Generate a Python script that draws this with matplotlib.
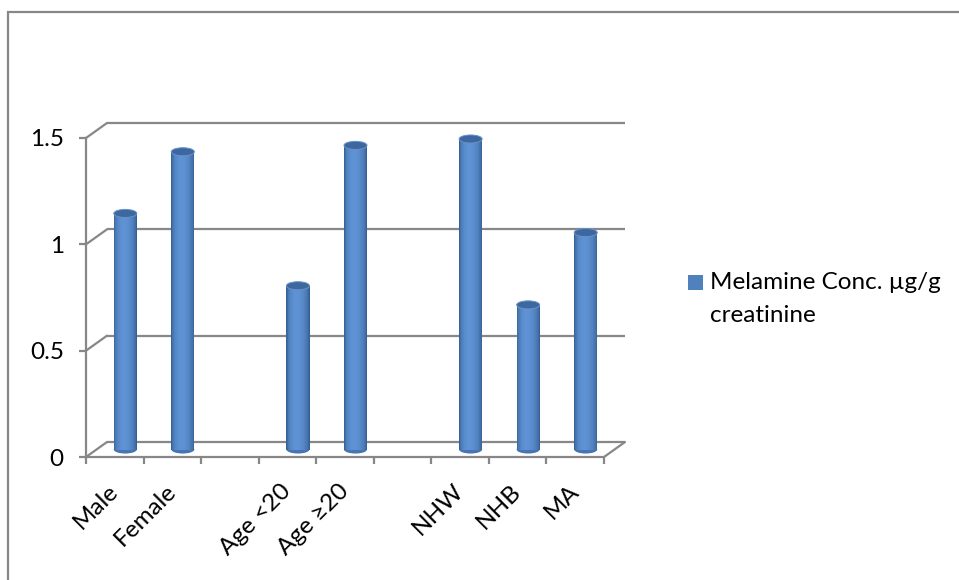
import numpy as np
import matplotlib
matplotlib.use("Agg")
import matplotlib.pyplot as plt
from matplotlib import transforms
from matplotlib.patches import Ellipse, Rectangle, ConnectionPatch
from matplotlib.colors import to_rgb

# ---- data ----
categories = ["Male", "Female", "", "Age <20", "Age \u226520", "", "NHW", "NHB", "MA"]
values = [1.11, 1.40, None, 0.77, 1.43, None, 1.46, 0.68, 1.02]
y_ticks = [0, 0.5, 1, 1.5]
y_tick_labels = ["0", "0.5", "1", "1.5"]
series_name = ["Melamine Conc. \u00b5g/g", "creatinine"]

plt.rcParams["font.family"] = ["Lato", "DejaVu Sans"]

W, H, DPI = 959, 580, 100
fig = plt.figure(figsize=(W / DPI, H / DPI), dpi=DPI)
ax = fig.add_axes([86 / W, 1 - 457 / H, 518 / W, 319 / H])
n = len(categories)
ax.set_xlim(-0.5, n - 0.5)
ax.set_ylim(0, 1.5)
ax.patch.set_visible(False)

grid = "#878787"
lw = 1.6
fs = 17.5

# depth of the pseudo-3D box, in pixels (right, up)
dx, dy = 21, 15
back = ax.transData + transforms.ScaledTranslation(dx / DPI, dy / DPI, fig.dpi_scale_trans)
mid = ax.transData + transforms.ScaledTranslation(dx / 2 / DPI, dy / 2 / DPI, fig.dpi_scale_trans)

# back wall gridlines and the side-wall diagonals
for yv in y_ticks:
    ax.plot([-0.5, n - 0.5], [yv, yv], transform=back, color=grid, lw=lw,
            clip_on=False, zorder=1, solid_capstyle="butt")
    cp = ConnectionPatch((-0.5, yv), (-0.5, yv), coordsA=ax.transData, coordsB=back,
                         color=grid, lw=lw, zorder=1)
    cp.set_clip_on(False)
    ax.add_artist(cp)
cp = ConnectionPatch((n - 0.5, 0), (n - 0.5, 0), coordsA=ax.transData, coordsB=back,
                     color=grid, lw=lw, zorder=1)
cp.set_clip_on(False)
ax.add_artist(cp)

# front axes
for side in ("top", "right"):
    ax.spines[side].set_visible(False)
for side in ("left", "bottom"):
    ax.spines[side].set_color(grid)
    ax.spines[side].set_linewidth(lw)

ax.set_yticks(y_ticks, y_tick_labels)
ax.tick_params(axis="y", length=5, width=lw, color=grid, pad=11, labelsize=fs)
ax.set_xticks(range(n), categories)
ax.set_xticks(np.arange(-0.5, n, 1.0), minor=True)
ax.tick_params(axis="x", which="major", length=0, pad=22, labelsize=fs)
ax.tick_params(axis="x", which="minor", length=5, width=lw, color=grid)
for lab in ax.get_xticklabels():
    lab.set_rotation(45)
    lab.set_ha("right")
    lab.set_va("center")
    lab.set_rotation_mode("anchor")

# cylinders
bar_w = 0.40
ell_h = 0.038
n_strips = 40
c_edge = np.array(to_rgb("#2f5789"))
c_light = np.array(to_rgb("#5e92d4"))
peak = 0.42


def shade(t):
    if t < peak:
        f = 1 - ((peak - t) / peak) ** 2
    else:
        f = 1 - ((t - peak) / (1 - peak)) ** 2
    f = max(f, 0) ** 0.6
    return c_edge + (c_light - c_edge) * f


for i, v in enumerate(values):
    if v is None:
        continue
    x_left = i - bar_w / 2
    sw = bar_w / n_strips
    ax.add_patch(Ellipse((i, 0), bar_w, ell_h, transform=mid, facecolor="#4675b2",
                         edgecolor="none", zorder=2, clip_on=False))
    for k in range(n_strips):
        t = (k + 0.5) / n_strips
        ax.bar(x_left + k * sw, v, width=sw * 1.08, align="edge", bottom=0,
               color=shade(t), lw=0, transform=mid, zorder=3, clip_on=False)
    ax.add_patch(Ellipse((i, v), bar_w, ell_h, transform=mid, facecolor="#3c679f",
                         edgecolor="#6a92c6", lw=0.7, zorder=4, clip_on=False))

# legend
fig.add_artist(Rectangle((688 / W, 1 - 290 / H), 15 / W, 15 / H,
                         transform=fig.transFigure, facecolor="#4f81bd", edgecolor="none"))
for line, yc in zip(series_name, (283, 316)):
    fig.text(710 / W, 1 - yc / H, line, fontsize=fs, va="center", ha="left")

# chart area border
fig.add_artist(Rectangle((8 / W, -0.2), 2.0, 1.2 - 12 / H, transform=fig.transFigure,
                         fill=False, edgecolor=grid, lw=lw))

fig.savefig("out.png", dpi=DPI)
